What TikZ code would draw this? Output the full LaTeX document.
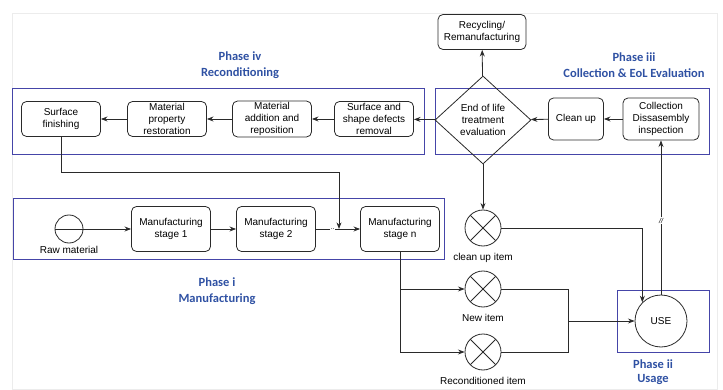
\documentclass[tikz,border=0pt]{standalone}
\usepackage{fontspec}
\setmainfont{Liberation Sans}
\newfontfamily\phasefont{Carlito}
\usetikzlibrary{arrows.meta,shapes.geometric,positioning}
\definecolor{phaseblue}{HTML}{2F51A3}
\definecolor{boxblue}{HTML}{4545A8}
\definecolor{linegray}{HTML}{2A2A2A}

\begin{document}
\begin{tikzpicture}[x=1pt,y=-1pt,line width=0.8pt,>=Stealth,
  font=\fontsize{10}{12.3}\selectfont,
  proc/.style={draw=linegray,rounded corners=5pt,minimum width=79pt,minimum height=35pt,align=center,inner sep=1pt},
  item/.style={draw=linegray,circle,minimum size=36pt,inner sep=0pt,
    path picture={\draw[linegray] (path picture bounding box.north west) -- (path picture bounding box.south east)
      (path picture bounding box.north east) -- (path picture bounding box.south west);}},
  phase/.style={draw=boxblue,line width=0.9pt},
  phaselabel/.style={text=phaseblue,font=\phasefont\bfseries\fontsize{12.5}{16}\selectfont,align=center},
  conn/.style={->,draw=linegray}]
\useasboundingbox (0,0) rectangle (723,390);
% faint page frame
\draw[gray!15,line width=0.6pt] (12,13) rectangle (717,389);
% phase frames
\draw[phase] (12,88) rectangle (424,154);
\draw[phase] (435,88) rectangle (709,154);
\draw[phase] (13,198) rectangle (444,259);
\draw[phase] (617,290) rectangle (709,352);
% phase titles
\node[phaselabel] (lbliv) at (240,65) {Phase iv\\Reconditioning};
\node[phaselabel] (lbliii) at (634,65) {Phase iii\\Collection \& EoL Evaluation};
\node[phaselabel] (lbli) at (217,291) {Phase i\\Manufacturing};
\node[phaselabel,font=\phasefont\bfseries\fontsize{12.5}{14}\selectfont] (lblii) at (653,372) {Phase ii\\Usage};
% phase iv: reconditioning
\node[proc] (sfin) at (61,119) {Surface\\finishing};
\node[proc] (mprop) at (167,119) {Material\\property\\restoration};
\node[proc] (madd) at (272,119) {Material\\addition and\\reposition};
\node[proc] (sdef) at (374,119) {Surface and\\shape defects\\removal};
% phase iii: collection and evaluation
\node[draw=linegray,diamond,minimum width=96pt,minimum height=88pt,inner sep=0pt,align=center] (eol) at (483,120) {End of life\\treatment\\evaluation};
\node[proc,minimum width=55pt,minimum height=42pt] (clean) at (576,119) {Clean up};
\node[proc,minimum width=76pt,minimum height=42pt] (coll) at (661,119) {Collection\\Dissasembly\\inspection};
\node[proc,minimum width=88pt] (recyc) at (482,32) {Recycling/\\Remanufacturing};
% phase i: manufacturing
\node[draw=linegray,circle,minimum size=28pt,inner sep=0pt,
  path picture={\draw[linegray] (path picture bounding box.west) -- (path picture bounding box.east);},
  label={[label distance=-1pt]below:Raw material}] (raw) at (69,229) {};
\node[proc,minimum height=45pt] (ms1) at (171,229) {Manufacturing\\stage 1};
\node[proc,minimum height=45pt] (ms2) at (276,229) {Manufacturing\\stage 2};
\node[proc,minimum height=45pt] (msn) at (400,229) {Manufacturing\\stage n};
% items and use
\node[item,label={[label distance=3pt]below:clean up item}] (itclean) at (483,228) {};
\node[item,label={[label distance=3pt]below:New item}] (itnew) at (483,289) {};
\node[item,label={[label distance=3pt]below:Reconditioned item}] (itrec) at (483,352) {};
\node[draw=linegray,circle,minimum size=52pt,inner sep=0pt] (use) at (661,321) {USE};
% connectors
\draw[conn] (sdef) -- (madd);
\draw[conn] (madd) -- (mprop);
\draw[conn] (mprop) -- (sfin);
\draw[conn] (coll) -- (clean);
\draw[conn] (clean) -- (eol);
\draw[conn] (eol) -- (sdef);
\draw[conn] (eol) -- (recyc);
\draw[conn] (raw) -- (ms1);
\draw[conn] (ms1) -- (ms2);
\draw[conn] (ms2) -- (msn) node[pos=0.38,fill=white,inner sep=0.5pt,font=\scriptsize] {..};
\coordinate (bend) at (339,172);
\coordinate (join) at (339,229);
\draw[conn] (sfin.south) |- (bend) -- (join);
\draw[conn] (eol.south) -- (itclean);
\draw[conn] (itclean) -| (use.north west);
\draw[conn] (msn.south) |- (itnew);
\draw[conn] (msn.south) |- (itrec);
\coordinate (merge) at (568,321);
\draw[linegray] (itnew) -| (merge);
\draw[linegray] (itrec) -| (merge);
\draw[conn] (merge) -- (use);
\draw[conn] (use) -- (coll) node[pos=0.48,fill=white,inner sep=1pt,font=\scriptsize\itshape] {//};
\end{tikzpicture}
\end{document}
